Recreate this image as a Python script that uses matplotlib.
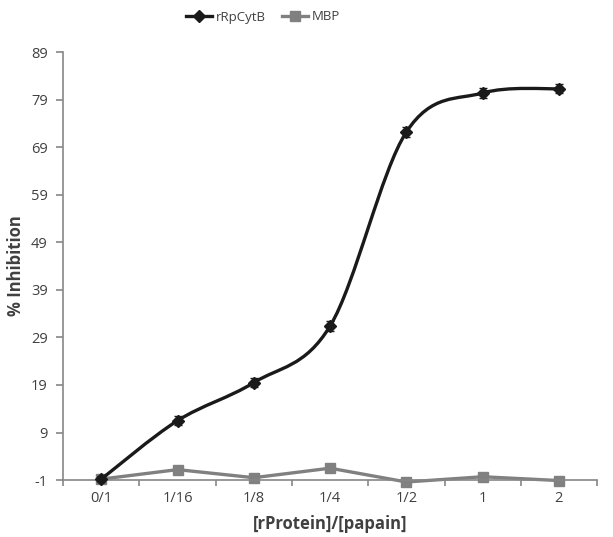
import numpy as np
import matplotlib.pyplot as plt
from matplotlib.path import Path
from matplotlib.patches import PathPatch

categories = ['0/1', '1/16', '1/8', '1/4', '1/2', '1', '2']
cytb = [-0.8, 11.5, 19.5, 31.4, 72.2, 80.4, 81.3]
cytb_err = [0.6, 1.0, 1.0, 1.0, 1.0, 1.1, 1.0]
mbp = [-0.8, 1.2, -0.5, 1.5, -1.4, -0.3, -1.1]
yticks = [-1, 9, 19, 29, 39, 49, 59, 69, 79, 89]

axis_grey = '#868686'
text_grey = '#404040'


def smooth_path(x, y):
    # Excel-like smoothed line: cubic Bezier with Catmull-Rom control points
    pts = np.column_stack([x, y]).astype(float)
    n = len(pts)
    verts = [pts[0]]
    codes = [Path.MOVETO]
    for i in range(n - 1):
        p0 = pts[i - 1] if i > 0 else pts[i]
        p1 = pts[i]
        p2 = pts[i + 1]
        p3 = pts[i + 2] if i + 2 < n else pts[i + 1]
        c1 = p1 + (p2 - p0) / 6.0
        c2 = p2 - (p3 - p1) / 6.0
        verts += [c1, c2, p2]
        codes += [Path.CURVE4] * 3
    return Path(verts, codes)


plt.rcParams['font.family'] = ['Open Sans', 'DejaVu Sans']
plt.rcParams['axes.unicode_minus'] = False

fig = plt.figure(figsize=(6.13, 5.37), dpi=100)
ax = fig.add_axes([0.103, 0.106, 0.871, 0.797])

x = np.arange(len(categories))

ax.add_patch(PathPatch(smooth_path(x, cytb), facecolor='none',
                       edgecolor='#1a1a1a', lw=2.4, zorder=3))
ax.errorbar(x, cytb, yerr=cytb_err, fmt='none', ecolor='#1a1a1a',
            elinewidth=1, capsize=3, capthick=1, zorder=4, clip_on=False)
ax.plot(x, cytb, linestyle='none', marker='D', markersize=6,
        color='#1a1a1a', zorder=5, clip_on=False)
ax.plot(x, mbp, color='#808080', lw=2.4, marker='s', markersize=7.5,
        zorder=2, clip_on=False)

# legend proxies
h1, = ax.plot([], [], color='#1a1a1a', lw=2.4, marker='D', markersize=6)
h2, = ax.plot([], [], color='#808080', lw=2.4, marker='s', markersize=7)
fig.legend([h1, h2], ['rRpCytB', 'MBP'], loc='center',
           bbox_to_anchor=(263 / 613, 1 - 17 / 537), ncol=2, frameon=False,
           fontsize=9.5, handlelength=2.0, columnspacing=1.2,
           handletextpad=0.3, labelcolor=text_grey)

ax.set_xlim(-0.5, len(categories) - 0.5)
ax.set_ylim(-1, 89)
ax.set_yticks(yticks)
ax.set_xticks(x)
ax.set_xticklabels(categories)
ax.set_xticks(np.arange(-0.5, len(categories), 1.0), minor=True)

for s in ['top', 'right']:
    ax.spines[s].set_visible(False)
for s in ['left', 'bottom']:
    ax.spines[s].set_color(axis_grey)
    ax.spines[s].set_linewidth(1.2)

ax.tick_params(axis='y', direction='out', length=5, color=axis_grey,
               width=1.2, labelsize=10.5, labelcolor=text_grey, pad=6)
ax.tick_params(axis='x', which='major', length=0, labelsize=10.5,
               labelcolor=text_grey, pad=8)
ax.tick_params(axis='x', which='minor', direction='out', length=4,
               color=axis_grey, width=1.2)

ax.set_xlabel('[rProtein]/[papain]', fontsize=12, fontweight='bold',
              color=text_grey, labelpad=6)
ax.set_ylabel('% Inhibition', fontsize=12, fontweight='bold',
              color=text_grey, labelpad=4)

fig.savefig('out.png', dpi=100)
